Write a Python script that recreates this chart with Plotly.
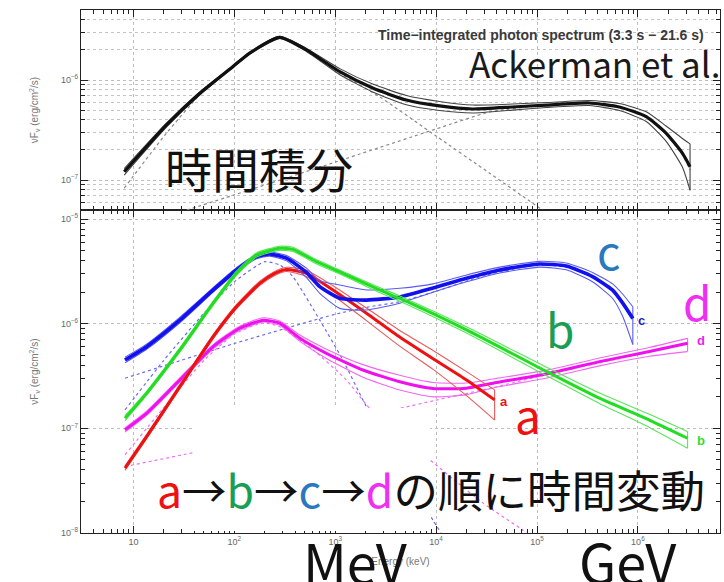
import plotly.graph_objects as go

# ---------------- top panel: time-integrated spectrum (keV vs erg/cm^2/s) ----------------
E_TOT = [8.1, 21.3, 45.5, 96.6, 142, 282, 519, 1110, 2350, 5070, 10800, 23000,
         57200, 124000, 331000, 656000, 1.21e6, 1.90e6, 2.76e6, 3.29e6]
F_TOT = [1.21e-7, 3.55e-7, 7.36e-7, 1.36e-6, 1.86e-6, 2.67e-6, 2.00e-6, 1.21e-6, 8.3e-7, 6.3e-7,
         5.5e-7, 5.13e-7, 5.37e-7, 5.62e-7, 5.89e-7, 5.37e-7, 4.3e-7, 2.95e-7, 1.86e-7, 1.36e-7]
F_TOT_HI = [1.30e-7, 3.72e-7, 7.62e-7, 1.39e-6, 1.90e-6, 2.73e-6, 2.07e-6, 1.30e-6, 9.1e-7, 7.0e-7,
            6.1e-7, 5.62e-7, 5.75e-7, 5.95e-7, 6.24e-7, 5.82e-7, 4.82e-7, 3.47e-7, 2.6e-7, 2.30e-7]
F_TOT_LO = [1.12e-7, 3.39e-7, 7.1e-7, 1.33e-6, 1.82e-6, 2.61e-6, 1.93e-6, 1.13e-6, 7.6e-7, 5.65e-7,
            4.95e-7, 4.68e-7, 5.0e-7, 5.3e-7, 5.55e-7, 4.95e-7, 3.85e-7, 2.45e-7, 1.35e-7, 7.9e-8]

E_TOT_BAND = [8.1, 21.3, 45.5, 96.6, 142, 282, 519, 1110, 2750, 10000, 33900, 132000]
F_TOT_BAND = [8.3e-8, 2.95e-7, 7.1e-7, 1.33e-6, 1.84e-6, 2.65e-6, 1.97e-6, 1.17e-6, 6.8e-7,
              2.75e-7, 1.17e-7, 4.5e-8]
E_TOT_PL = [33.6, 100, 1000, 10000, 33900, 100000, 316000, 656000, 1.21e6, 1.90e6, 2.76e6, 3.29e6]
F_TOT_PL = [5.0e-8, 7.1e-8, 1.51e-7, 3.24e-7, 4.79e-7, 5.5e-7, 5.82e-7, 5.31e-7, 4.22e-7,
            2.88e-7, 1.78e-7, 1.26e-7]

# ---------------- bottom panel: time-resolved intervals a, b, c, d ----------------
E_A = [8.24, 13.5, 28.8, 61.7, 105, 179, 251, 329, 519, 951, 2040, 4360, 9330, 20000, 38000]
F_A = [4.16e-8, 8.34e-8, 2.50e-7, 7.52e-7, 1.45e-6, 2.43e-6, 3.02e-6, 3.30e-6, 3.03e-6, 2.10e-6,
       1.26e-6, 7.45e-7, 4.62e-7, 2.90e-7, 1.87e-7]
F_A_HI = [4.36e-8, 8.73e-8, 2.62e-7, 7.87e-7, 1.52e-6, 2.55e-6, 3.16e-6, 3.46e-6, 3.24e-6, 2.30e-6,
          1.41e-6, 8.60e-7, 5.55e-7, 3.48e-7, 2.33e-7]
F_A_LO = [3.97e-8, 7.96e-8, 2.39e-7, 7.18e-7, 1.39e-6, 2.32e-6, 2.88e-6, 3.15e-6, 2.82e-6, 1.87e-6,
          1.07e-6, 6.10e-7, 3.66e-7, 2.05e-7, 1.20e-7]

E_B = [8.24, 13.5, 28.8, 61.7, 105, 166, 282, 382, 603, 1290, 2750, 4370, 20000, 123000,
       416000, 1.30e6, 3.11e6]
F_B = [1.25e-7, 2.16e-7, 5.61e-7, 1.57e-6, 3.03e-6, 4.53e-6, 5.25e-6, 5.13e-6, 4.06e-6, 2.92e-6,
       2.10e-6, 1.74e-6, 8.71e-7, 3.51e-7, 1.94e-7, 1.20e-7, 8.04e-8]
F_B_HI = [1.32e-7, 2.26e-7, 5.87e-7, 1.64e-6, 3.17e-6, 4.74e-6, 5.50e-6, 5.37e-6, 4.25e-6, 3.05e-6,
          2.22e-6, 1.84e-6, 9.33e-7, 3.85e-7, 2.17e-7, 1.36e-7, 9.29e-8]
F_B_LO = [1.18e-7, 2.07e-7, 5.36e-7, 1.50e-6, 2.89e-6, 4.33e-6, 5.01e-6, 4.90e-6, 3.87e-6, 2.79e-6,
          1.98e-6, 1.64e-6, 8.13e-7, 3.20e-7, 1.73e-7, 1.02e-7, 6.46e-8]

E_C = [8.24, 13.5, 28.8, 61.7, 105, 166, 224, 329, 519, 703, 1110, 2040, 4370, 9330, 20000,
       42700, 107000, 195000, 355000, 562000, 708000, 891000]
F_C = [4.50e-7, 6.03e-7, 1.08e-6, 2.10e-6, 3.26e-6, 4.37e-6, 4.63e-6, 4.22e-6, 3.09e-6, 2.26e-6,
       1.75e-6, 1.68e-6, 1.80e-6, 2.19e-6, 2.71e-6, 3.26e-6, 3.72e-6, 3.55e-6, 2.82e-6, 2.09e-6,
       1.57e-6, 1.12e-6]
F_C_HI = [4.79e-7, 6.38e-7, 1.15e-6, 2.21e-6, 3.43e-6, 4.57e-6, 4.84e-6, 4.47e-6, 3.39e-6, 2.57e-6,
          2.34e-6, 2.10e-6, 2.18e-6, 2.40e-6, 2.92e-6, 3.47e-6, 3.94e-6, 3.80e-6, 3.09e-6, 2.40e-6,
          1.91e-6, 1.45e-6]
F_C_LO = [4.22e-7, 5.69e-7, 1.02e-6, 2.00e-6, 3.09e-6, 4.17e-6, 4.42e-6, 3.98e-6, 2.75e-6, 1.95e-6,
          1.40e-6, 1.35e-6, 1.57e-6, 2.00e-6, 2.51e-6, 3.05e-6, 3.47e-6, 3.27e-6, 2.51e-6, 1.74e-6,
          1.17e-6, 6.31e-7]
E_C_PL = [8.24, 100, 1000, 2190, 4370, 10000, 31600, 100000, 195000, 355000, 562000, 708000, 891000]
F_C_PL = [3.01e-7, 6.46e-7, 1.23e-6, 1.45e-6, 1.62e-6, 2.04e-6, 2.92e-6, 3.63e-6, 3.47e-6, 2.79e-6,
          2.04e-6, 1.53e-6, 1.10e-6]
E_C_BAND = [8.24, 20.0, 50.1, 100, 200, 282, 380, 703, 1190, 2040, 9330, 11200]
F_C_BAND = [1.50e-7, 4.47e-7, 1.26e-6, 2.51e-6, 3.91e-6, 3.63e-6, 2.82e-6, 1.08e-6, 4.50e-7,
            1.61e-7, 1.32e-8, 1.0e-8]

E_D = [8.24, 13.5, 28.8, 61.7, 113, 193, 282, 446, 818, 1880, 4360, 9330, 20000, 36500, 133000,
       416000, 1.30e6, 3.11e6]
F_D = [9.66e-8, 1.39e-7, 2.90e-7, 6.03e-7, 9.04e-7, 1.08e-6, 1.01e-6, 7.26e-7, 5.21e-7, 3.61e-7,
       2.79e-7, 2.40e-7, 2.42e-7, 2.70e-7, 3.36e-7, 4.34e-7, 5.41e-7, 6.50e-7]
F_D_HI = [1.01e-7, 1.46e-7, 3.03e-7, 6.31e-7, 9.46e-7, 1.14e-6, 1.06e-6, 7.78e-7, 5.71e-7, 4.06e-7,
          3.21e-7, 2.74e-7, 2.71e-7, 2.96e-7, 3.64e-7, 4.70e-7, 5.93e-7, 7.24e-7]
F_D_LO = [9.23e-8, 1.33e-7, 2.77e-7, 5.75e-7, 8.63e-7, 1.04e-6, 9.64e-7, 6.78e-7, 4.65e-7, 3.08e-7,
          2.32e-7, 2.00e-7, 2.10e-7, 2.43e-7, 3.06e-7, 3.95e-7, 4.88e-7, 5.41e-7]
E_D_PL = [8.24, 31.6, 100, 316, 1000, 4360, 10000, 36500, 133000, 416000, 1.30e6, 3.11e6]
F_D_PL = [4.31e-8, 5.62e-8, 7.08e-8, 8.91e-8, 1.15e-7, 1.55e-7, 1.86e-7, 2.45e-7, 3.31e-7, 4.22e-7,
          5.37e-7, 6.46e-7]
E_D_BAND = [8.24, 20.0, 50.1, 100, 193, 282, 603, 1290, 2190, 28800, 71800, 89100]
F_D_BAND = [5.57e-8, 1.58e-7, 4.47e-7, 7.94e-7, 1.02e-6, 9.33e-7, 5.62e-7, 2.90e-7, 1.56e-7,
            1.95e-8, 1.07e-8, 8.9e-9]

# axis ticks
X_TICKS = [10, 100, 1e3, 1e4, 1e5, 1e6]
X_TICK_TEXT = ["10", "10<sup>2</sup>", "10<sup>3</sup>", "10<sup>4</sup>", "10<sup>5</sup>", "10<sup>6</sup>"]
Y_TICKS_TOP = [1e-7, 1e-6]
Y_TICK_TEXT_TOP = ["10<sup>−7</sup>", "10<sup>−6</sup>"]
Y_TICKS_BOT = [1e-8, 1e-7, 1e-6, 1e-5]
Y_TICK_TEXT_BOT = ["10<sup>−8</sup>", "10<sup>−7</sup>", "10<sup>−6</sup>", "10<sup>−5</sup>"]

# ---------------- figure ----------------
W, H = 724, 582
ML, MR, MT, MB = 81, 4, 10, 49
PW, PH = W - ML - MR, H - MT - MB
SPLIT = 323 / PH  # bottom panel height fraction


def px(x):
    return (x - ML) / PW


def py(y):
    return (H - MB - y) / PH


fig = go.Figure()


def line(x, y, color, width, xa, ya, dash="solid", smooth=0.55):
    fig.add_trace(go.Scatter(x=x, y=y, mode="lines", xaxis=xa, yaxis=ya,
                             line=dict(color=color, width=width, dash=dash, shape="spline", smoothing=smooth),
                             hoverinfo="skip", showlegend=False))


def band(E, mid, hi, lo, color, edge, xa, ya, mid_w=3):
    line(E, hi, edge, 1.1, xa, ya)
    line(E, lo, edge, 1.1, xa, ya)
    fig.add_trace(go.Scatter(x=[E[-1], E[-1]], y=[lo[-1], hi[-1]], mode="lines", xaxis=xa, yaxis=ya,
                             line=dict(color=edge, width=1.1), hoverinfo="skip", showlegend=False))
    line(E, mid, color, mid_w, xa, ya)


# top panel
line(E_TOT_BAND, F_TOT_BAND, "#8a8a8a", 1.2, "x2", "y2", dash="dot")
line(E_TOT_PL, F_TOT_PL, "#8a8a8a", 1.2, "x2", "y2", dash="dot")
band(E_TOT, F_TOT, F_TOT_HI, F_TOT_LO, "#111111", "#444444", "x2", "y2", mid_w=3.2)

# bottom panel components
line(E_C_PL, F_C_PL, "#6a6af0", 1.2, "x", "y", dash="dot")
line(E_C_BAND, F_C_BAND, "#6a6af0", 1.2, "x", "y", dash="dot")
line(E_D_PL, F_D_PL, "#f070f0", 1.2, "x", "y", dash="dot")
line(E_D_BAND, F_D_BAND, "#f070f0", 1.2, "x", "y", dash="dot")

band(E_D, F_D, F_D_HI, F_D_LO, "#ee11ee", "#f266f2", "x", "y")
band(E_A, F_A, F_A_HI, F_A_LO, "#ee1111", "#e85a5a", "x", "y")
band(E_C, F_C, F_C_HI, F_C_LO, "#1111ee", "#5a5af0", "x", "y", mid_w=3.6)
band(E_B, F_B, F_B_HI, F_B_LO, "#22dd22", "#5ae65a", "x", "y")

grid = dict(showgrid=True, gridcolor="#bdbdbd", gridwidth=1, griddash="dot")
axis_common = dict(type="log", showline=True, linecolor="#222222", linewidth=1.2, mirror="allticks",
                   ticks="inside", ticklen=7, tickcolor="#222222", tickwidth=1,
                   tickfont=dict(family="Liberation Sans", size=9, color="#666666"),
                   zeroline=False, **grid)
minor_common = dict(ticks="inside", ticklen=4, tickcolor="#222222", dtick="D1")
title_font = dict(family="Liberation Sans", size=10, color="#777777")
ytitle = "νF<sub>ν</sub> (erg/cm<sup>2</sup>/s)"

fig.update_layout(
    width=W, height=H, margin=dict(l=ML, r=MR, t=MT, b=MB),
    paper_bgcolor="white", plot_bgcolor="white", showlegend=False,
    xaxis=dict(domain=[0, 1], anchor="y", range=[0.48, 6.814], tickmode="array",
               tickvals=X_TICKS, ticktext=X_TICK_TEXT, minor=dict(**minor_common, showgrid=False),
               title=dict(text="Energy (keV)", standoff=12, font=title_font),
               **axis_common),
    yaxis=dict(domain=[0, SPLIT], anchor="x", range=[-8, -4.914], tickmode="array",
               tickvals=Y_TICKS_BOT, ticktext=Y_TICK_TEXT_BOT, minor=dict(**minor_common, showgrid=False),
               title=dict(text=ytitle, standoff=20, font=title_font),
               **axis_common),
    xaxis2=dict(domain=[0, 1], anchor="y2", range=[0.48, 6.814], tickmode="array",
                tickvals=X_TICKS, showticklabels=False, minor=dict(**minor_common, showgrid=False),
                **axis_common),
    yaxis2=dict(domain=[SPLIT, 1], anchor="x2", range=[-7.30, -5.30], tickmode="array",
                tickvals=Y_TICKS_TOP, ticktext=Y_TICK_TEXT_TOP,
                minor=dict(**minor_common, showgrid=True, gridcolor="#c4c4c4", griddash="dot"),
                title=dict(text=ytitle, standoff=20, font=title_font),
                **axis_common),
)

# blank box in the lower middle of the bottom panel
fig.add_shape(type="rect", xref="paper", yref="paper", x0=px(193), x1=px(430), y0=py(531), y1=py(408),
              fillcolor="white", line=dict(width=0), layer="above")

CJK = "Noto Sans CJK JP"
ann = []
ann.append(dict(text="<b>Time−integrated photon spectrum (3.3 s − 21.6 s)</b>", x=px(376), y=py(35),
                xanchor="left", yanchor="middle",
                font=dict(family="Liberation Sans", size=14, color="#3a3a3a")))
ann.append(dict(text="Ackerman et al.", x=px(722), y=py(62), xanchor="right", yanchor="middle",
                font=dict(family=CJK, size=35, color="#1a1a1a")))
ann.append(dict(text="時間積分", x=px(259), y=py(167), xanchor="center", yanchor="middle",
                font=dict(family=CJK, size=47, color="#111111")))
ann.append(dict(text="<span style='color:#ee1111'>a</span>→<span style='color:#1a9e55'>b</span>→"
                     "<span style='color:#2a78c0'>c</span>→<span style='color:#f030f0'>d</span>の順に時間変動",
                x=px(155), y=py(488), xanchor="left", yanchor="middle",
                font=dict(family=CJK, size=44.5, color="#111111")))
for t, xx, yy, col in [("c", 608, 250, "#2a78c0"), ("b", 560, 328, "#1a9e55"),
                       ("d", 697, 301, "#f030f0"), ("a", 528, 414, "#ee1111")]:
    ann.append(dict(text=t, x=px(xx), y=py(yy), xanchor="center", yanchor="middle",
                    font=dict(family=CJK, size=46, color=col)))
for t, xx, yy, col in [("a", 504, 401, "#ee1111"), ("c", 641, 320, "#2222cc"),
                       ("d", 701, 341, "#ee22ee"), ("b", 701, 440, "#33dd33")]:
    ann.append(dict(text="<b>" + t + "</b>", x=px(xx), y=py(yy), xanchor="center", yanchor="middle",
                    font=dict(family="Liberation Sans", size=13, color=col)))
ann.append(dict(text="MeV", x=px(355), y=py(560), xanchor="center", yanchor="middle",
                font=dict(family=CJK, size=54, color="#111111")))
ann.append(dict(text="GeV", x=px(628), y=py(560), xanchor="center", yanchor="middle",
                font=dict(family=CJK, size=54, color="#111111")))
for a in ann:
    a.update(xref="paper", yref="paper", showarrow=False)
fig.update_layout(annotations=ann)

fig.write_html("out.html")
